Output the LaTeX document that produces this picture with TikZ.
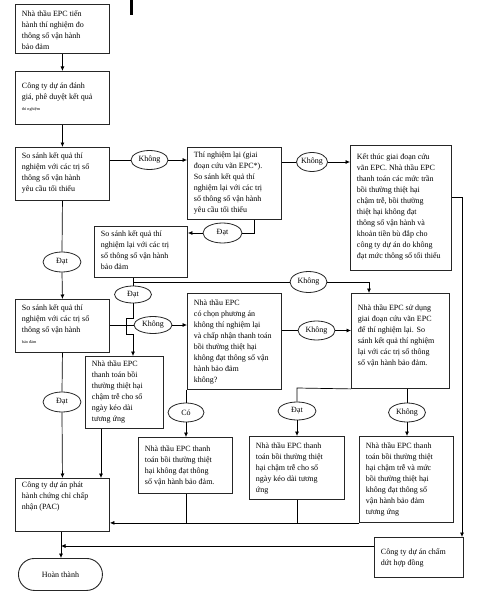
\documentclass[tikz,border=0pt]{standalone}
\usepackage{fontspec}
\setmainfont{Liberation Serif}
\usetikzlibrary{shapes.geometric,arrows.meta}
\newcommand\bxtext[4]{\parbox[c][#2pt][t]{#1pt}{\vspace*{#3pt}\leftskip=6.5pt\rightskip=0pt plus 1fil\parindent=0pt\fontsize{8}{11}\selectfont\strut #4\par}}
\newcommand\tinytxt[1]{{\fontsize{4.2}{4.2}\selectfont #1}}
\begin{document}
\begin{tikzpicture}[x=1pt,y=-1pt,
  box/.style={draw=black!85, line width=0.9pt, inner sep=0pt, anchor=north west, fill=white},
  ell/.style={draw=black!85, line width=0.8pt, ellipse, inner sep=0pt, minimum width=37pt, minimum height=19pt, fill=white, font=\fontsize{8}{9}\selectfont},
  ln/.style={draw=black, line width=0.7pt},
  arr/.style={ln, -{Latex[length=4.5pt,width=4pt]}}]
\useasboundingbox (0,0) rectangle (478,591);
\fill[black] (130,0) rectangle (133,15);
% boxes
\node[box] (b1) at (15,4) {\bxtext{94}{49}{4.1}{Nhà thầu EPC tiến\\hành thí nghiệm đo\\thông số vận hành\\bảo đảm}};
\node[box] (b2) at (15,71) {\bxtext{94}{53}{9.1}{Công ty dự án đánh\\giá, phê duyệt kết quả\\\tinytxt{thí nghiệm}}};
\node[box] (b3) at (15,147) {\bxtext{94}{53}{3.1}{So sánh kết quả thí\\nghiệm với các trị số\\thông số vận hành\\yêu cầu tối thiểu}};
\node[box] (b4) at (187,147) {\bxtext{94}{72}{2.1}{Thí nghiệm lại (giai\\đoạn cứu vãn EPC*).\\So sánh kết quả thí\\nghiệm lại với các trị\\số thông số vận hành\\yêu cầu tối thiểu}};
\node[box] (b5) at (350,145) {\bxtext{101}{125}{6.1}{Kết thúc giai đoạn cứu\\vãn EPC. Nhà thầu EPC\\thanh toán các mức trần\\bồi thường thiệt hại\\chậm trễ, bồi thường\\thiệt hại không đạt\\thông số vận hành và\\khoản tiền bù đắp cho\\công ty dự án do không\\đạt mức thông số tối thiểu}};
\node[box] (b6) at (94,226) {\bxtext{93}{51}{2.1}{So sánh kết quả thí\\nghiệm lại với các trị\\số thông số vận hành\\bảo đảm}};
\node[box] (b7) at (15,299) {\bxtext{94}{53}{3.1}{So sánh kết quả thí\\nghiệm với các trị số\\thông số vận hành\\\tinytxt{bảo đảm}}};
\node[box] (b10) at (187,293) {\bxtext{94}{96}{4.1}{Nhà thầu EPC\\có chọn phương án\\không thí nghiệm lại\\và chấp nhận thanh toán\\bồi thường thiệt hại\\không đạt thông số vận\\hành bảo đảm\\không?}};
\node[box] (b8) at (351,293) {\bxtext{98}{95}{9.1}{Nhà thầu EPC sử dụng\\giai đoạn cứu vãn EPC\\để thí nghiệm lại. So\\sánh kết quả thí nghiệm\\lại với các trị số thông\\số vận hành bảo đảm.}};
\node[box] (b9) at (85,356) {\bxtext{78}{72}{2.1}{Nhà thầu EPC\\thanh toán bồi\\thường thiệt hại\\chậm trễ cho số\\ngày kéo dài\\tương ứng}};
\node[box] (b11) at (138,437) {\bxtext{94}{56}{6.1}{Nhà thầu EPC thanh\\toán bồi thường thiệt\\hại không đạt thông\\số vận hành bảo đảm.}};
\node[box] (b12) at (249,436) {\bxtext{95}{63}{4.1}{Nhà thầu EPC thanh\\toán bồi thường thiệt\\hại chậm trễ cho số\\ngày kéo dài tương\\ứng}};
\node[box] (b13) at (359,436) {\bxtext{94}{86}{4.1}{Nhà thầu EPC thanh\\toán bồi thường thiệt\\hại chậm trễ và mức\\bồi thường thiệt hại\\không đạt thông số\\vận hành bảo đảm\\tương ứng}};
\node[box] (b14) at (15,478) {\bxtext{94}{53}{1.1}{Công ty dự án phát\\hành chứng chỉ chấp\\nhận (PAC)}};
\node[box] (b15) at (374,537) {\bxtext{89}{40}{9.1}{Công ty dự án chấm\\dứt hợp đồng}};
\node[box, rounded corners=16pt, minimum width=84pt, minimum height=32pt, font=\fontsize{8}{9}\selectfont] (hoan) at (18,558) {Hoàn thành};
% ellipses
\node[ell] (e1) at (149.5,160) {Không};
\node[ell, minimum width=31pt] (e2) at (312,162) {Không};
\node[ell, minimum width=39pt, minimum height=20pt] (e3) at (222.5,233) {Đạt};
\node[ell, minimum width=38pt, minimum height=20pt] (e4) at (62,262) {Đạt};
\node[ell, minimum height=17pt] (e5) at (133,294.5) {Đạt};
\node[ell, minimum height=21pt] (e6) at (308.5,282) {Không};
\node[ell, minimum width=38pt, minimum height=17pt] (e7) at (153,325) {Không};
\node[ell] (e8) at (316.5,330.5) {Không};
\node[ell, minimum width=36pt] (e9) at (186,412.5) {Có};
\node[ell, minimum width=38pt, minimum height=18pt] (e10) at (297,411) {Đạt};
\node[ell] (e11) at (407,412.5) {Không};
\node[ell, minimum width=38pt, minimum height=20pt] (e12) at (62,402) {Đạt};
% helper coordinates
\coordinate (k1) at (462,197);
\coordinate (k2) at (254,233);
\coordinate (k3) at (133,282);
\coordinate (k4) at (369,282);
\coordinate (k5) at (297,388);
\coordinate (k7) at (101,0);
\coordinate (k8) at (61,546);
% connectors
\draw[arr] (b1.south) -- (b2.north);
\draw[arr] (b2.south) -- (b3.north);
\draw[ln] (e1.west -| b3.east) -- (e1.west);
\draw[arr] (e1.east) -- (e1.east -| b4.west);
\draw[ln] (e2.west -| b4.east) -- (e2.west);
\draw[arr] (e2.east) -- (e2.east -| b5.west);
\draw[arr] (k1 -| b5.east) -- (k1) -- (k1 |- b15.north);
\draw[ln] (k2 |- b4.south) -- (k2) -- (e3.east);
\draw[arr] (e3.west) -- (e3.west -| b6.east);
\draw[ln] (k3 |- b6.south) -- (e5.north);
\draw[ln] (k3) -- (e6.west);
\draw[arr] (e6.east) -- (k4) -- (k4 |- b8.north);
\draw[arr] (e5.south) -- ++(0,15) -- ++(-7,0) -- ++(0,16) -- ++(7,0) -- (e5.south |- b9.north);
\draw[ln] (b3.south) -- (e4.north);
\draw[arr] (e4.south) -- (b7.north);
\draw[ln] (e7.west -| b7.east) -- (e7.west);
\draw[arr] (e7.east) -- (e7.east -| b10.west);
\draw[ln] (e8.west -| b10.east) -- (e8.west);
\draw[arr] (e8.east) -- (e8.east -| b8.west);
\draw[ln] (e9.north |- b10.south) -- (e9.north);
\draw[arr] (e9.south) -- (e9.south |- b11.north);
\draw[ln] (b8.south west) -- (k5) -- (e10.north);
\draw[arr] (e10.south) -- (e10.south |- b12.north);
\draw[ln] (e11.north |- b8.south) -- (e11.north);
\draw[arr] (e11.south) -- (e11.south |- b13.north);
\draw[ln] (e9.south |- b11.south) -- (e9.south |- b13.south);
\draw[ln] (e10.south |- b12.south) -- (e10.south |- b13.south);
\draw[arr] (b13.south west) -- (b13.south west -| b14.east);
\draw[ln] (b7.south) -- (e12.north);
\draw[arr] (e12.south) -- (b14.north);
\draw[arr] (k7 |- b9.south) -- (k7 |- b14.north);
\draw[ln] (k8 |- b14.south) -- (k8);
\draw[arr] (k8) -- (k8 |- hoan.north);
\draw[arr] (k8 -| b15.west) -- (k8);
\end{tikzpicture}
\end{document}
